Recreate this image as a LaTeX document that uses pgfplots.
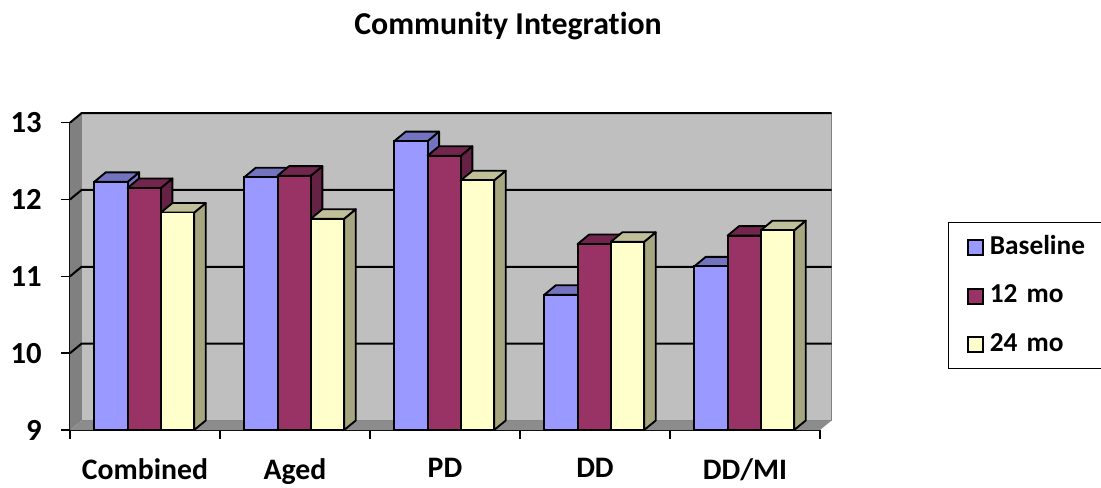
\documentclass[border=0pt]{standalone}
\usepackage{fontspec}
\setmainfont{Carlito}[RawFeature=-liga]
\usepackage{pgfplots}
\pgfplotsset{compat=1.18}
\definecolor{baseF}{HTML}{9999FF}\definecolor{baseT}{HTML}{7373BF}\definecolor{baseS}{HTML}{7373BF}
\definecolor{midF}{HTML}{993366}\definecolor{midT}{HTML}{73264D}\definecolor{midS}{HTML}{662244}
\definecolor{lateF}{HTML}{FFFFCC}\definecolor{lateT}{HTML}{BFBF99}\definecolor{lateS}{HTML}{A6A680}
\newcommand{\dxx}{0.0767}
\newcommand{\dyy}{0.1237}
\newcommand{\barcap}[4]{%
  \pgfmathsetmacro\xl{#1-0.1111}\pgfmathsetmacro\xr{#1+0.1111}%
  \pgfmathsetmacro\xlb{\xl+\dxx}\pgfmathsetmacro\xrb{\xr+\dxx}%
  \pgfmathsetmacro\vb{#2+\dyy}\pgfmathsetmacro\fb{9+\dyy}%
  \edef\tmp{\noexpand\addplot[forget plot,fill=#4,draw=black,line width=1.4pt,line join=round] coordinates {(\xr,9) (\xrb,\fb) (\xrb,\vb) (\xr,#2)} --cycle;
  \noexpand\addplot[forget plot,fill=#3,draw=black,line width=1.4pt,line join=round] coordinates {(\xl,#2) (\xlb,\vb) (\xrb,\vb) (\xr,#2)} --cycle;}\tmp}
\newcommand{\gridl}[1]{%
  \pgfmathsetmacro\vb{#1+\dyy}\pgfmathsetmacro\xe{5+\dxx}%
  \edef\tmp{\noexpand\addplot[forget plot,black,line width=1.5pt] coordinates {(0,#1) (\dxx,\vb) (\xe,\vb)};}\tmp}
\begin{document}
\begin{tikzpicture}
\path[use as bounding box] (-52.5pt,-42.75pt) rectangle (773.25pt,322.5pt);
\begin{axis}[
  at={(0,0)},anchor=south west,
  scale only axis,width=562.5pt,height=230.5pt,
  xmin=0,xmax=5,ymin=9,ymax=13,clip=false,
  axis y line*=left,axis x line*=bottom,axis line style={-,black,line width=1.4pt},
  xtick={0,1,2,3,4,5},xticklabels={},
  extra x ticks={0.5,1.5,2.5,3.5,4.5},
  extra x tick labels={Combined,Aged,PD,DD,DD/MI},
  extra x tick style={major tick length=0pt,xticklabel style={yshift=-18pt,font=\fontsize{22.3}{24}\selectfont\bfseries}},
  ytick={9,10,11,12,13},
  tick align=outside,major tick length=6.75pt,
  tick style={black,line width=1.1pt},
  /pgf/number format/assume math mode=true,
  ticklabel style={font=\fontsize{23}{25}\selectfont\bfseries},
  yticklabel style={xshift=-11pt},
  title={Community Integration},
  title style={at={(0.584,1.321)},anchor=center,yshift=-7.5pt,font=\fontsize{23.9}{25}\selectfont\bfseries},
  legend style={at={(1.1707,0.677)},anchor=north west,draw=black,line width=0.7pt,
    font=\fontsize{20.5}{22}\selectfont\bfseries,
    inner xsep=14pt,inner ysep=9.75pt,row sep=19.75pt,
    nodes={inner sep=0pt,text width=200pt,text depth=3pt},
    /tikz/every even column/.append style={column sep=4.5pt}},
  legend cell align=left,
  legend image code/.code={\draw[#1,line width=1.5pt,bar width=0pt] (0pt,-6pt) rectangle (11.5pt,5.5pt);\path (15.5pt,0pt);},
]
% walls and floor
\addplot[forget plot,fill=gray!100,draw=none] coordinates {(0,9) (0.0767,9.1237) (0.0767,13.1237) (0,13)} --cycle;
\addplot[forget plot,fill=black!25,draw=gray,line width=0.8pt] coordinates {(0.0767,9.1237) (5.0767,9.1237) (5.0767,13.1237) (0.0767,13.1237)} --cycle;
\addplot[forget plot,fill=black!45,draw=none] coordinates {(0,9) (5,9) (5.0767,9.1237) (0.0767,9.1237)} --cycle;
\gridl{10}\gridl{11}\gridl{12}\gridl{13}
% Baseline
\barcap{0.273}{12.23}{baseT}{baseS}
\barcap{1.273}{12.29}{baseT}{baseS}
\barcap{2.273}{12.76}{baseT}{baseS}
\barcap{3.273}{10.76}{baseT}{baseS}
\barcap{4.273}{11.13}{baseT}{baseS}
\addplot[ybar,bar width=25pt,bar shift=0pt,fill=baseF,draw=black,line width=1.4pt] coordinates {(0.273,12.23) (1.273,12.29) (2.273,12.76) (3.273,10.76) (4.273,11.13)};
% 12 mo
\barcap{0.495}{12.15}{midT}{midS}
\barcap{1.495}{12.31}{midT}{midS}
\barcap{2.495}{12.57}{midT}{midS}
\barcap{3.495}{11.42}{midT}{midS}
\barcap{4.495}{11.53}{midT}{midS}
\addplot[ybar,bar width=25pt,bar shift=0pt,fill=midF,draw=black,line width=1.4pt] coordinates {(0.495,12.15) (1.495,12.31) (2.495,12.57) (3.495,11.42) (4.495,11.53)};
% 24 mo
\barcap{0.717}{11.83}{lateT}{lateS}
\barcap{1.717}{11.75}{lateT}{lateS}
\barcap{2.717}{12.25}{lateT}{lateS}
\barcap{3.717}{11.45}{lateT}{lateS}
\barcap{4.717}{11.60}{lateT}{lateS}
\addplot[ybar,bar width=25pt,bar shift=0pt,fill=lateF,draw=black,line width=1.4pt] coordinates {(0.717,11.83) (1.717,11.75) (2.717,12.25) (3.717,11.45) (4.717,11.60)};
\legend{Baseline,12 mo,24 mo}
\end{axis}
\end{tikzpicture}
\end{document}
